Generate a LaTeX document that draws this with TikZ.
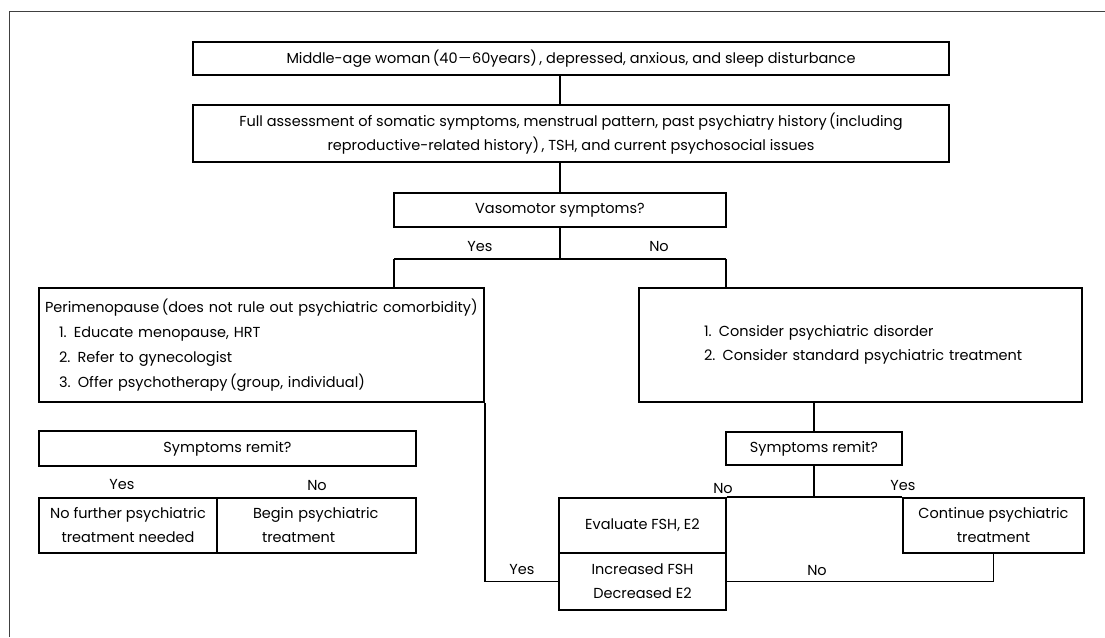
\documentclass[tikz,border=0pt]{standalone}
\usepackage{fontspec}
\setmainfont{Poppins}
\newfontfamily\cjk{Noto Sans CJK SC}
\newcommand{\lp}{\hspace{2.5pt}(}
\newcommand{\rp}{)\hspace{2.5pt}}
\newcommand{\fdash}{{\cjk －}}
\begin{document}
\begin{tikzpicture}[x=1pt,y=-1pt,
  box/.style={draw,line width=1.8pt,inner sep=0pt,align=center,font=\fontsize{14.5}{24}\selectfont},
  lbl/.style={inner sep=0pt,font=\fontsize{14.5}{24}\selectfont},
  conn/.style={line width=1.8pt}]
\useasboundingbox (0,0) rectangle (1105,637);
\draw[black!75,line width=0.8pt] (9,637) -- (9,11) -- (1105,11);

\node[box,minimum width=756pt,minimum height=33pt] (b1) at (571,58.5)
  {Middle-age woman\lp 40\fdash 60years\rp, depressed, anxious, and sleep disturbance};
\node[box,minimum width=756pt,minimum height=57pt] (b2) at (571,133.5)
  {Full assessment of somatic symptoms, menstrual pattern, past psychiatry history\lp including\\
   reproductive-related history\rp, TSH, and current psychosocial issues};
\node[box,minimum width=332pt,minimum height=34pt] (vaso) at (560,210) {Vasomotor symptoms?};

\node[box,minimum width=445pt,minimum height=114pt,text width=445pt,align=left,
  font=\fontsize{14.5}{25}\selectfont] (peri) at (261.5,345)
  {\hspace*{6pt}Perimenopause\lp does not rule out psychiatric comorbidity)\\
   \hspace*{20pt}1. Educate menopause, HRT\\
   \hspace*{20pt}2. Refer to gynecologist\\
   \hspace*{20pt}3. Offer psychotherapy\lp group, individual)};
\node[box,minimum width=443pt,minimum height=114pt,text width=443pt,align=left] (rbox) at (860.5,345)
  {\hspace*{65pt}1. Consider psychiatric disorder\\
   \hspace*{65pt}2. Consider standard psychiatric treatment};

\node[box,minimum width=377pt,minimum height=35pt] (lsym) at (227.5,448.5) {Symptoms remit?};
\node[box,minimum width=178pt,minimum height=55pt] (nofur) at (128,525.5)
  {No further psychiatric\\treatment needed};
\node[box,minimum width=199pt,minimum height=55pt,text width=199pt,align=left] (begin) at (316.5,525.5)
  {\hspace*{36pt}Begin psychiatric\\\hspace*{45pt}treatment};

\node[box,minimum width=176pt,minimum height=33pt] (rsym) at (814,448.5) {Symptoms remit?};
\node[box,minimum width=167pt,minimum height=55pt] (eval) at (642.5,525.5) {Evaluate FSH, E2};
\node[box,minimum width=167pt,minimum height=57pt] (incr) at (642.5,581.5) {Increased FSH\\Decreased E2};
\node[box,minimum width=181pt,minimum height=55pt] (cont) at (993.5,525.5) {Continue psychiatric\\treatment};

\coordinate (vy) at (394,259);
\coordinate (vn) at (726,259);
\draw[conn] (vaso.north |- b1.south) -- (vaso.north |- b2.north);
\draw[conn] (vaso.north |- b2.south) -- (vaso.north);
\draw[conn] (vaso.south) -- (vaso.south |- vy);
\draw[conn] (vy) -- (vn);
\draw[conn] (vy) -- (vy |- peri.north);
\draw[conn] (vn) -- (vn |- rbox.north);
\draw[conn] (rsym.north |- rbox.south) -- (rsym.north);
\draw[conn] (rsym.south) -- (rsym.south |- eval.north);
\draw[conn] (eval.north east) -- (cont.north west);
\draw[conn] (cont.south) |- (incr.east);
\draw[conn] (peri.south east) |- (incr.west);

\node[lbl] (ly1) at (480,247) {Yes};
\node[lbl] (ln1) at (659,247) {No};
\node[lbl] (ly2) at (122,485) {Yes};
\node[lbl] (ln2) at (317,485) {No};
\node[lbl] (ln3) at (723,488) {No};
\node[lbl] (ly3) at (903,486) {Yes};
\node[lbl] (ly4) at (522,570) {Yes};
\node[lbl] (ln4) at (817,570) {No};
\end{tikzpicture}
\end{document}
